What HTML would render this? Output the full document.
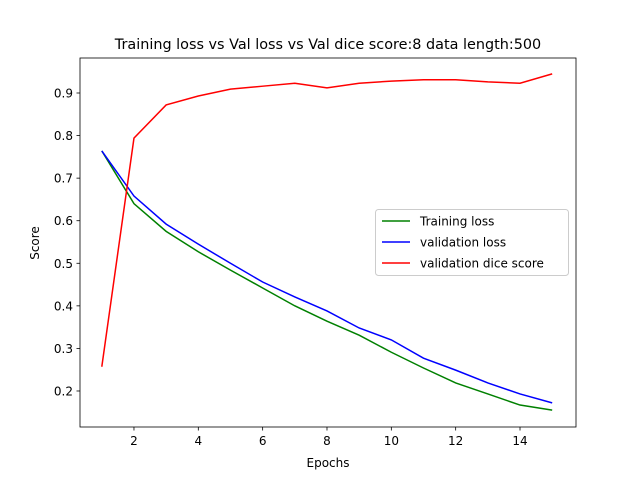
<!DOCTYPE html>
<html><head><meta charset="utf-8"><style>
body{margin:0;background:#fff;}
svg text{font-family:"DejaVu Sans","Liberation Sans",sans-serif;}
</style></head><body>
<svg id="chart" width="640" height="480" xmlns="http://www.w3.org/2000/svg"></svg>
<script>
const epochs=[1,2,3,4,5,6,7,8,9,10,11,12,13,14,15];
const trainLoss=[0.764,0.640,0.575,0.527,0.484,0.442,0.400,0.364,0.331,0.291,0.254,0.219,0.193,0.167,0.155];
const valLoss=[0.764,0.658,0.592,0.545,0.500,0.456,0.421,0.388,0.348,0.320,0.277,0.249,0.219,0.193,0.172];
const valDice=[0.257,0.794,0.872,0.893,0.909,0.916,0.923,0.912,0.923,0.928,0.931,0.931,0.926,0.923,0.945];
const xTicks=[2,4,6,8,10,12,14];
const yTicks=[0.2,0.3,0.4,0.5,0.6,0.7,0.8,0.9];
const NS="http://www.w3.org/2000/svg";
const svg=document.getElementById('chart');
const L=80,R=576,T=58,B=427;
function xs(v){return 101.8+(v-1)*32.17;}
function ys(v){return 93+(0.9-v)*425.7;}
function mk(tag,attrs,parent){const e=document.createElementNS(NS,tag);for(const k in attrs)e.setAttribute(k,attrs[k]);(parent||svg).appendChild(e);return e;}
let t=mk('text',{x:328,y:49,'text-anchor':'middle','font-size':14.4,fill:'#000'});t.textContent='Training loss vs Val loss vs Val dice score:8 data length:500';


xTicks.forEach(v=>{const x=xs(v);
 const l=mk('line',{x1:x,x2:x,y1:B,y2:B+3.5,stroke:'#000','stroke-width':0.8});
 
 
 const tx=mk('text',{x:x,y:B+18,'text-anchor':'middle','font-size':12,fill:'#000'});tx.textContent=v;
 
 
});
yTicks.forEach(v=>{const y=ys(v);
 const l=mk('line',{x1:L-3.5,x2:L,y1:y,y2:y,stroke:'#000','stroke-width':0.8});
 
 
 const tx=mk('text',{x:L-7,y:y+4.5,'text-anchor':'end','font-size':12,fill:'#000'});tx.textContent=v.toFixed(1);
 
 
});
let xl=mk('text',{x:328,y:467,'text-anchor':'middle','font-size':12,fill:'#000'});xl.textContent='Epochs';


let yl=mk('text',{x:0,y:0,'text-anchor':'middle','font-size':12,fill:'#000',transform:'translate(39,243) rotate(-90)'});yl.textContent='Score';


function series(data,color,name){
 const p=mk('polyline',{points:data.map((v,i)=>xs(epochs[i])+','+ys(v)).join(' '),fill:'none',stroke:color,'stroke-width':1.5});
 
 
}
series(trainLoss,'green','training-loss-line');
series(valLoss,'blue','validation-loss-line');
series(valDice,'red','validation-dice-line');
const frame=mk('rect',{x:L,y:T,width:R-L,height:B-T,fill:'none',stroke:'#000','stroke-width':0.8});


const lg=mk('g',{});


mk('rect',{x:375.5,y:209.5,width:193,height:66,rx:3,fill:'#fff','fill-opacity':0.8,stroke:'#ccc'},lg);
[['Training loss','green'],['validation loss','blue'],['validation dice score','red']].forEach((e,i)=>{
 const y=221+i*21;
 const g=mk('g',{},lg);
 
 
 mk('line',{x1:382,x2:410,y1:y,y2:y,stroke:e[1],'stroke-width':1.5},g);
 const tx=mk('text',{x:420,y:y+4.5,'font-size':12,fill:'#000'},g);tx.textContent=e[0];
});
</script>
</body></html>
